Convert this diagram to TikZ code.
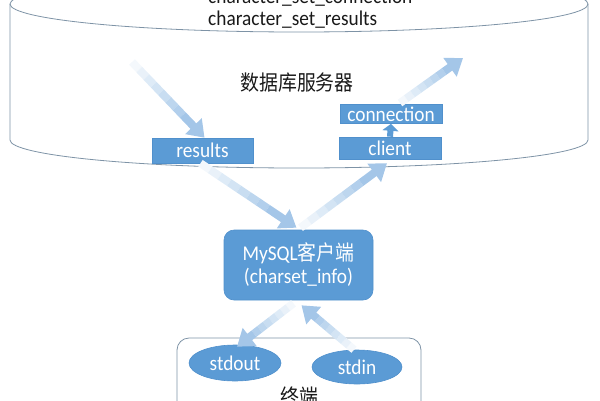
\documentclass[tikz,border=0pt]{standalone}
\usepackage{fontspec}
\setmainfont{Carlito}[FakeStretch=0.92]
\newfontfamily\cjk{Noto Sans CJK SC}[FakeStretch=0.9]
\usetikzlibrary{arrows.meta,calc,shapes.geometric}
\definecolor{boxblue}{HTML}{5B9BD5}
\definecolor{boxline}{HTML}{5090CC}
\definecolor{arrblue}{HTML}{A4C6E8}
\definecolor{cylline}{HTML}{7E93A6}
\tikzset{
  bluebox/.style={fill=boxblue, draw=boxline, line width=0.6pt, text=white,
    font=\fontsize{21}{23}\selectfont, inner sep=0pt},
  blueell/.style={bluebox, ellipse},
  plaintext/.style={text=black!90, font=\fontsize{21}{23}\selectfont, inner sep=0pt},
  shaftline/.style={line width=8pt},
  outline/.style={draw=cylline, line width=0.8pt}
}
\newcommand\fadearrow[2]{%
  \foreach \i in {0,...,6}{%
    \pgfmathsetmacro\sa{\i*0.1}%
    \pgfmathsetmacro\sb{\i*0.1+0.1}%
    \pgfmathsetmacro\cc{int(12+\i*12)}%
    \draw[shaftline, arrblue!\cc!white] ($(#1)!\sa!(#2)$) -- ($(#1)!\sb!(#2)$);
  }%
  \draw[shaftline, arrblue, -{Triangle[width=22pt,length=16pt]}] ($(#1)!0.7!(#2)$) -- (#2);%
}
\begin{document}
\begin{tikzpicture}[x=1pt,y=-1pt]
\useasboundingbox (0,0) rectangle (600,400);
\clip (0,0) rectangle (600,400);
% cylinder (database server)
\draw[outline] (299,4) ellipse [x radius=289pt, y radius=28pt];
\draw[outline] (10,4) -- (10,140) arc[start angle=180, end angle=360, x radius=289pt, y radius=28pt] -- (588,4);
% terminal box
\draw[outline, rounded corners=12pt] (177,338) rectangle (421,430);
% texts
\node[plaintext, anchor=base west] (t1) at (208,3) {character\_set\_connection};
\node[plaintext, anchor=base west] (t2) at (208,25) {character\_set\_results};
\node[plaintext] (server) at (297,83) {\cjk 数据库服务器};
\node[plaintext] (term) at (299,397) {\cjk 终端};
% boxes
\node[bluebox, minimum width=101pt, minimum height=25pt] (results) at (202.5,150.5) {results};
\node[bluebox, minimum width=102pt, minimum height=19pt] (connection) at (391,114) {connection};
\node[bluebox, minimum width=102pt, minimum height=22pt] (client) at (390,148) {client};
\node[bluebox, rounded corners=10pt, minimum width=149pt, minimum height=70pt, align=center] (mysql) at (298.5,265) {MySQL{\cjk 客户端}\\(charset\_info)};
\node[blueell, minimum width=92pt, minimum height=36pt] (stdout) at (235,363) {stdout};
\node[blueell, minimum width=90pt, minimum height=34pt] (stdin) at (357,367) {stdin};
% helper coordinates
\coordinate (a1s) at (132,62);
\coordinate (a1e) at ([xshift=2pt]results.north);
\coordinate (a2s) at ([xshift=-2pt]results.south);
\coordinate (a2e) at ([xshift=-2pt,yshift=2pt]mysql.north);
\coordinate (a3s) at ([xshift=2pt,yshift=2pt]mysql.north);
\coordinate (a3e) at ([xshift=-3pt,yshift=-4pt]client.south);
\coordinate (a4s) at (400,103);
\coordinate (a4e) at (463,58);
\coordinate (a5s) at ([xshift=-5pt,yshift=-3pt]mysql.south);
\coordinate (a5e) at ([xshift=2pt,yshift=-2pt]stdout.north);
\coordinate (a6s) at ([xshift=-3pt]stdin.north);
\coordinate (a6e) at ([xshift=3pt,yshift=-5pt]mysql.south);
% arrows
\fadearrow{a1s}{a1e}
\fadearrow{a2s}{a2e}
\fadearrow{a3s}{a3e}
\fadearrow{a4s}{a4e}
\fadearrow{a5s}{a5e}
\fadearrow{a6s}{a6e}
\draw[boxblue, line width=6pt, -{Triangle[width=16pt,length=7pt]}] (client.north) -- (connection.south);
\end{tikzpicture}
\end{document}
